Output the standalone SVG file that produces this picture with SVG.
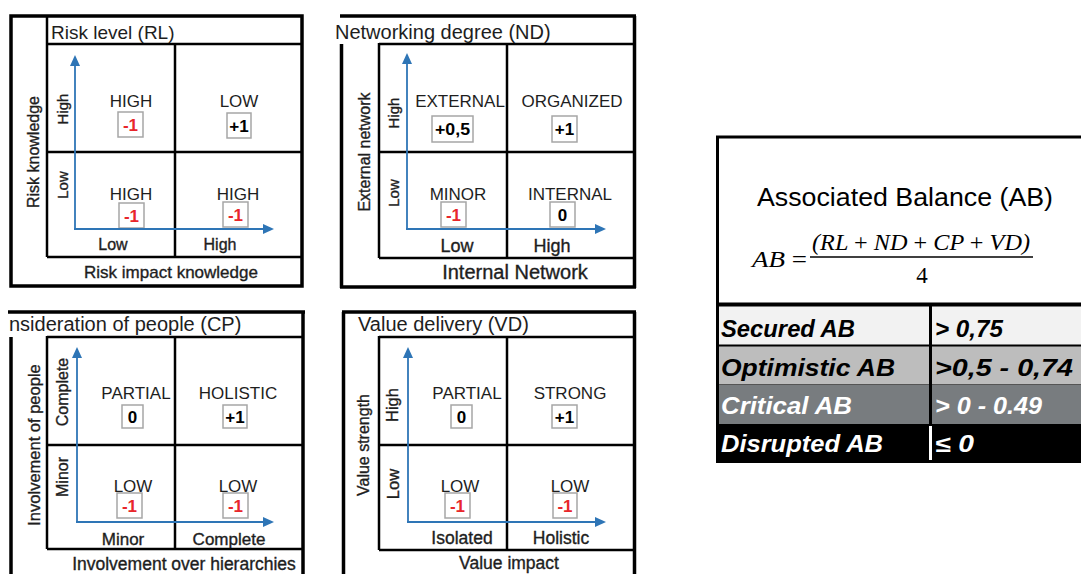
<svg xmlns="http://www.w3.org/2000/svg" width="1081" height="574" viewBox="0 0 1081 574">
<style>
text{font-family:"Liberation Sans",Arial,sans-serif;fill:#1e1e1e}
.ol{fill:none;stroke:#000;stroke-width:3.5}
.gl{fill:none;stroke:#000;stroke-width:2.5}
.ax{fill:none;stroke:#2E75B6;stroke-width:1.8;marker-end:url(#ah)}
.vb{fill:#fff;stroke:#A6A6A6;stroke-width:1.5}
.ti{font-size:20px}
.cell{font-size:17px;text-anchor:middle}
.val{font-size:17px;font-weight:bold;text-anchor:middle;fill:#000}
.neg{fill:#E8262B}
.sb{stroke:#1e1e1e;stroke-width:0.35;text-anchor:middle}
.tb{font-size:23px;font-weight:bold;font-style:italic}
.wh{fill:#fff}
.m{font-family:"Liberation Serif","Times New Roman",serif;font-style:italic;font-size:23px;fill:#000}
.mu{font-style:normal}
</style>
<defs>
<marker id="ah" markerUnits="userSpaceOnUse" markerWidth="11" markerHeight="11" refX="0" refY="5" orient="auto">
<path d="M0,0 L11,5 L0,10 z" fill="#2E75B6"/>
</marker>
</defs>

<g id="panel-rl">
<rect class="ol" x="11" y="16" width="291" height="270"/>
<line class="gl" x1="47" y1="16" x2="47" y2="257"/>
<line class="gl" x1="47" y1="44" x2="302" y2="44"/>
<line class="gl" x1="175" y1="44" x2="175" y2="257"/>
<line class="gl" x1="47" y1="152" x2="302" y2="152"/>
<line class="gl" x1="47" y1="257" x2="302" y2="257"/>
<text x="51" y="39" style="font-size:19px">Risk level (RL)</text>
<text class="sb" transform="translate(39,152) rotate(-90)" style="font-size:16px">Risk knowledge</text>
<text class="sb" transform="translate(68,109) rotate(-90)" style="font-size:15px">High</text>
<text class="sb" transform="translate(68,185) rotate(-90)" style="font-size:15px">Low</text>
<text class="sb" x="113" y="250" style="font-size:16px">Low</text>
<text class="sb" x="220" y="250" style="font-size:16px">High</text>
<text class="sb" x="171" y="278" style="font-size:17px">Risk impact knowledge</text>
<text class="cell" x="131" y="107">HIGH</text>
<text class="cell" x="239" y="107">LOW</text>
<text class="cell" x="131" y="200">HIGH</text>
<text class="cell" x="238" y="200">HIGH</text>
<rect class="vb" x="118" y="112" width="25" height="25"/>
<text class="val neg" x="130.5" y="131">-1</text>
<rect class="vb" x="227" y="113" width="24" height="25"/>
<text class="val" x="239" y="132">+1</text>
<rect class="vb" x="119" y="203" width="25" height="25"/>
<text class="val neg" x="131.5" y="222">-1</text>
<rect class="vb" x="223" y="202" width="25" height="25"/>
<text class="val neg" x="235.5" y="221">-1</text>
</g>

<g id="panel-nd">
<line class="ol" x1="340" y1="16" x2="636" y2="16"/>
<line class="ol" x1="634.5" y1="16" x2="634.5" y2="288"/>
<line class="ol" x1="340" y1="287" x2="636" y2="287"/>
<line class="ol" x1="341.5" y1="44" x2="341.5" y2="288"/>
<line class="gl" x1="379" y1="44" x2="634" y2="44"/>
<line class="gl" x1="379" y1="43" x2="379" y2="258"/>
<line class="gl" x1="507" y1="44" x2="507" y2="258"/>
<line class="gl" x1="379" y1="152" x2="634" y2="152"/>
<line class="gl" x1="379" y1="258" x2="634" y2="258"/>
<text class="ti" x="335" y="39">Networking degree (ND)</text>
<text class="sb" transform="translate(370,152) rotate(-90)" style="font-size:16px">External network</text>
<text class="sb" transform="translate(399,113) rotate(-90)" style="font-size:15px">High</text>
<text class="sb" transform="translate(399,193) rotate(-90)" style="font-size:15px">Low</text>
<text class="sb" x="457" y="252" style="font-size:18px">Low</text>
<text class="sb" x="552" y="252" style="font-size:18px">High</text>
<text class="sb" x="515" y="279" style="font-size:20px">Internal Network</text>
<text class="cell" x="460" y="107">EXTERNAL</text>
<text class="cell" x="572" y="107">ORGANIZED</text>
<text class="cell" x="458" y="200">MINOR</text>
<text class="cell" x="570" y="200">INTERNAL</text>
<rect class="vb" x="432" y="116" width="41" height="26"/>
<text class="val" x="452.5" y="135" textLength="35" lengthAdjust="spacingAndGlyphs">+0,5</text>
<rect class="vb" x="552" y="116" width="25" height="26"/>
<text class="val" x="564.5" y="135">+1</text>
<rect class="vb" x="441" y="202" width="25" height="25"/>
<text class="val neg" x="453.5" y="221">-1</text>
<rect class="vb" x="550" y="202" width="25" height="25"/>
<text class="val" x="562.5" y="221">0</text>
</g>

<g id="panel-cp">
<line class="ol" x1="8" y1="312" x2="305" y2="312"/>
<line class="ol" x1="303" y1="312" x2="303" y2="574"/>
<line class="ol" x1="11" y1="337" x2="11" y2="574"/>
<line class="gl" x1="47" y1="337" x2="303" y2="337"/>
<line class="gl" x1="47" y1="336" x2="47" y2="549"/>
<line class="gl" x1="175" y1="337" x2="175" y2="549"/>
<line class="gl" x1="47" y1="445" x2="303" y2="445"/>
<line class="gl" x1="47" y1="549" x2="303" y2="549"/>
<text class="ti" x="9" y="331">nsideration of people (CP)</text>
<text class="sb" transform="translate(40,445) rotate(-90)" style="font-size:16.5px">Involvement of people</text>
<text class="sb" transform="translate(68,392) rotate(-90)" style="font-size:16px">Complete</text>
<text class="sb" transform="translate(68,477) rotate(-90)" style="font-size:16px">Minor</text>
<text class="sb" x="123" y="545" style="font-size:17px">Minor</text>
<text class="sb" x="229" y="545" style="font-size:17px">Complete</text>
<text class="sb" x="184" y="570" style="font-size:17.5px">Involvement over hierarchies</text>
<text class="cell" x="136" y="399">PARTIAL</text>
<text class="cell" x="238" y="399">HOLISTIC</text>
<text class="cell" x="133" y="492">LOW</text>
<text class="cell" x="238" y="492">LOW</text>
<rect class="vb" x="122" y="405" width="21" height="23"/>
<text class="val" x="132.5" y="423">0</text>
<rect class="vb" x="223" y="405" width="24" height="23"/>
<text class="val" x="235" y="423">+1</text>
<rect class="vb" x="117" y="493" width="25" height="25"/>
<text class="val neg" x="129.5" y="512">-1</text>
<rect class="vb" x="223" y="493" width="25" height="25"/>
<text class="val neg" x="235.5" y="512">-1</text>
</g>

<g id="panel-vd">
<line class="ol" x1="342" y1="312" x2="636" y2="312"/>
<line class="ol" x1="343.5" y1="312" x2="343.5" y2="574"/>
<line class="ol" x1="634.5" y1="312" x2="634.5" y2="574"/>
<line class="gl" x1="379" y1="337" x2="634" y2="337"/>
<line class="gl" x1="379" y1="336" x2="379" y2="550"/>
<line class="gl" x1="507" y1="337" x2="507" y2="550"/>
<line class="gl" x1="379" y1="445" x2="634" y2="445"/>
<line class="gl" x1="379" y1="550" x2="634" y2="550"/>
<text class="ti" x="358" y="331">Value delivery (VD)</text>
<text class="sb" transform="translate(369,445) rotate(-90)" style="font-size:16px">Value strength</text>
<text class="sb" transform="translate(398,405) rotate(-90)" style="font-size:16.5px">High</text>
<text class="sb" transform="translate(399,484) rotate(-90)" style="font-size:16.5px">Low</text>
<text class="sb" x="462" y="544" style="font-size:17.5px">Isolated</text>
<text class="sb" x="561" y="544" style="font-size:17.5px">Holistic</text>
<text class="sb" x="509" y="569" style="font-size:17.5px">Value impact</text>
<text class="cell" x="467" y="399">PARTIAL</text>
<text class="cell" x="570" y="399">STRONG</text>
<text class="cell" x="460" y="492">LOW</text>
<text class="cell" x="570" y="492">LOW</text>
<rect class="vb" x="451" y="405" width="21" height="23"/>
<text class="val" x="461.5" y="423">0</text>
<rect class="vb" x="552" y="405" width="25" height="23"/>
<text class="val" x="564.5" y="423">+1</text>
<rect class="vb" x="445" y="493" width="25" height="25"/>
<text class="val neg" x="457.5" y="512">-1</text>
<rect class="vb" x="553" y="493" width="24" height="25"/>
<text class="val neg" x="565" y="512">-1</text>
</g>

<g id="connectors">
<line class="ax" x1="75" y1="230" x2="75" y2="66"/>
<line class="ax" x1="74" y1="229" x2="263" y2="229"/>
<line class="ax" x1="407" y1="230" x2="407" y2="64"/>
<line class="ax" x1="406" y1="229" x2="595" y2="229"/>
<line class="ax" x1="77" y1="523" x2="77" y2="358"/>
<line class="ax" x1="76" y1="522" x2="263" y2="522"/>
<line class="ax" x1="408" y1="523" x2="408" y2="358"/>
<line class="ax" x1="407" y1="522" x2="595" y2="522"/>
</g>

<g id="ab-table">
<rect x="719" y="306" width="362" height="39" fill="#F2F2F2"/>
<rect x="719" y="346" width="362" height="39" fill="#BDBDBD"/>
<rect x="719" y="385" width="362" height="39" fill="#787C7F"/>
<rect x="719" y="424" width="362" height="39" fill="#000"/>
<line x1="717" y1="345.5" x2="1081" y2="345.5" stroke="#000" stroke-width="2"/>
<line x1="717" y1="384.5" x2="1081" y2="384.5" stroke="#555" stroke-width="1"/>
<line x1="930.5" y1="306" x2="930.5" y2="424" stroke="#000" stroke-width="3"/>
<line x1="930.5" y1="426" x2="930.5" y2="460" stroke="#fff" stroke-width="3"/>
<line x1="716" y1="137" x2="1081" y2="137" stroke="#000" stroke-width="3"/>
<line x1="717.5" y1="136" x2="717.5" y2="463" stroke="#000" stroke-width="3"/>
<line x1="716" y1="304.5" x2="1081" y2="304.5" stroke="#000" stroke-width="4"/>
<text x="757" y="206" style="font-size:26px;fill:#000" textLength="296" lengthAdjust="spacingAndGlyphs">Associated Balance (AB)</text>
<text class="m" x="752" y="267" textLength="55" lengthAdjust="spacingAndGlyphs">AB <tspan class="mu">=</tspan></text>
<text class="m" x="812" y="250" textLength="218" lengthAdjust="spacingAndGlyphs">(RL <tspan class="mu">+</tspan> ND <tspan class="mu">+</tspan> CP <tspan class="mu">+</tspan> VD)</text>
<line x1="810" y1="257" x2="1033" y2="257" stroke="#000" stroke-width="1.3"/>
<text class="m mu" x="922" y="283" text-anchor="middle">4</text>
<text class="tb" x="721" y="337" textLength="134" lengthAdjust="spacingAndGlyphs" style="fill:#000">Secured AB</text>
<text class="tb" x="935" y="337" textLength="68" lengthAdjust="spacingAndGlyphs" style="fill:#000">&gt; 0,75</text>
<text class="tb" x="721" y="376" textLength="174" lengthAdjust="spacingAndGlyphs" style="fill:#000">Optimistic AB</text>
<text class="tb" x="935" y="376" textLength="138" lengthAdjust="spacingAndGlyphs" style="fill:#000">&gt;0,5 - 0,74</text>
<text class="tb wh" x="721" y="414" textLength="131" lengthAdjust="spacingAndGlyphs">Critical AB</text>
<text class="tb wh" x="935" y="414" textLength="107" lengthAdjust="spacingAndGlyphs">&gt; 0 - 0.49</text>
<text class="tb wh" x="721" y="452" textLength="162" lengthAdjust="spacingAndGlyphs">Disrupted AB</text>
<text class="tb wh" x="935" y="452" textLength="39" lengthAdjust="spacingAndGlyphs">≤ 0</text>
</g>
</svg>
